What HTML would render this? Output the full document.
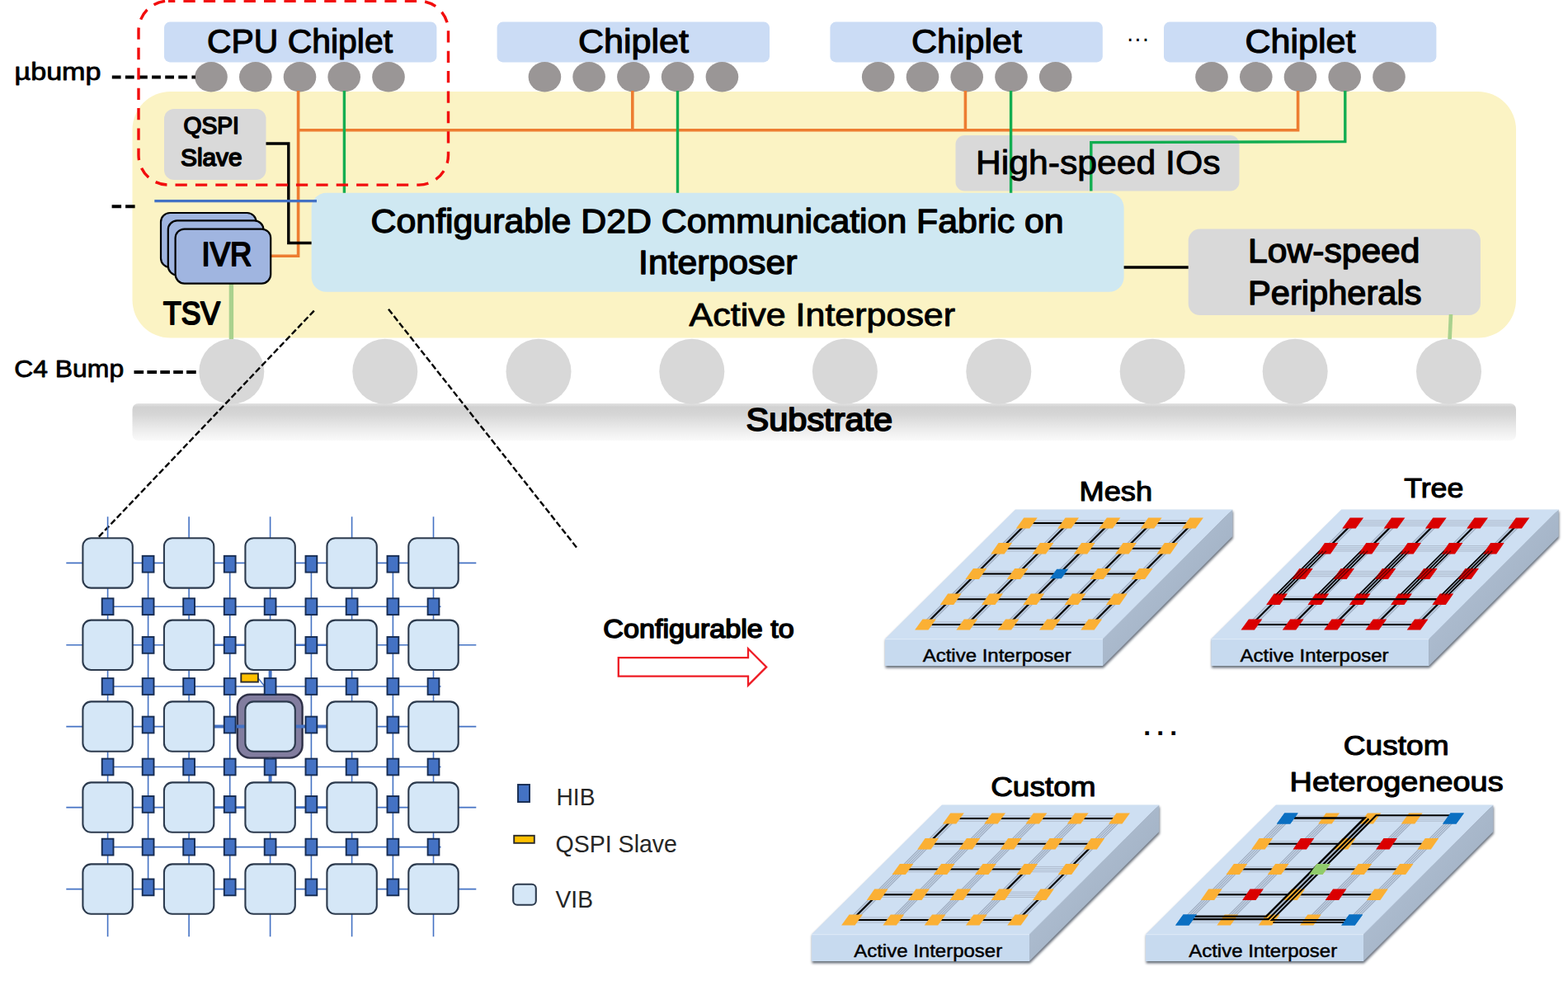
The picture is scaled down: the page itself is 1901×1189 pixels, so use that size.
<!DOCTYPE html>
<html lang="en">
<head>
<meta charset="utf-8">
<title>Configurable D2D Communication Fabric on Active Interposer</title>
<style>
html,body{margin:0;padding:0;background:#fff;}
body{width:1901px;height:1189px;overflow:hidden;}
svg{display:block;font-family:'Liberation Sans', sans-serif;}
</style>
</head>
<body>
<svg width="1901" height="1189" viewBox="0 0 1901 1189">
<defs>
<linearGradient id="gsub" x1="0" y1="0" x2="0" y2="1">
<stop offset="0" stop-color="#E2E2E2"/>
<stop offset="0.1" stop-color="#D1D1D1"/>
<stop offset="0.3" stop-color="#D6D6D6"/>
<stop offset="0.7" stop-color="#ECECEC"/>
<stop offset="1" stop-color="#FAFAFA"/>
</linearGradient>
<linearGradient id="gside" x1="0" y1="0" x2="1" y2="1">
<stop offset="0" stop-color="#B9C8DB"/>
<stop offset="1" stop-color="#98A8BB"/>
</linearGradient>
<filter id="blur2" x="-10%" y="-10%" width="120%" height="120%"><feGaussianBlur stdDeviation="1.7"/></filter>
</defs>
<rect width="1901" height="1189" fill="#fff"/>
<g id="top">
<rect x="160.5" y="111" width="1677.5" height="298.6" rx="46" ry="46" fill="#FBF3C4"/>
<rect x="160.5" y="489" width="1677.5" height="45" rx="7" ry="7" fill="url(#gsub)"/>
<circle cx="280.8" cy="450.3" r="39.5" fill="#D8D8D8"/>
<circle cx="466.8" cy="450.3" r="39.5" fill="#D8D8D8"/>
<circle cx="653" cy="450.3" r="39.5" fill="#D8D8D8"/>
<circle cx="838.8" cy="450.3" r="39.5" fill="#D8D8D8"/>
<circle cx="1024.4" cy="450.3" r="39.5" fill="#D8D8D8"/>
<circle cx="1210.8" cy="450.3" r="39.5" fill="#D8D8D8"/>
<circle cx="1397.2" cy="450.3" r="39.5" fill="#D8D8D8"/>
<circle cx="1570.2" cy="450.3" r="39.5" fill="#D8D8D8"/>
<circle cx="1756.5" cy="450.3" r="39.5" fill="#D8D8D8"/>
<rect x="199" y="26.6" width="330.4" height="48.8" rx="7" ry="7" fill="#CBDCF5"/>
<rect x="602.6" y="26.6" width="330.4" height="48.8" rx="7" ry="7" fill="#CBDCF5"/>
<rect x="1006.4" y="26.6" width="330.4" height="48.8" rx="7" ry="7" fill="#CBDCF5"/>
<rect x="1411" y="26.6" width="330.4" height="48.8" rx="7" ry="7" fill="#CBDCF5"/>
<ellipse cx="256.0" cy="93.3" rx="19.8" ry="18.2" fill="#9A9696"/>
<ellipse cx="309.8" cy="93.3" rx="19.8" ry="18.2" fill="#9A9696"/>
<ellipse cx="363.5" cy="93.3" rx="19.8" ry="18.2" fill="#9A9696"/>
<ellipse cx="417.2" cy="93.3" rx="19.8" ry="18.2" fill="#9A9696"/>
<ellipse cx="471.0" cy="93.3" rx="19.8" ry="18.2" fill="#9A9696"/>
<ellipse cx="660.4" cy="93.3" rx="19.8" ry="18.2" fill="#9A9696"/>
<ellipse cx="714.1" cy="93.3" rx="19.8" ry="18.2" fill="#9A9696"/>
<ellipse cx="767.9" cy="93.3" rx="19.8" ry="18.2" fill="#9A9696"/>
<ellipse cx="821.6" cy="93.3" rx="19.8" ry="18.2" fill="#9A9696"/>
<ellipse cx="875.4" cy="93.3" rx="19.8" ry="18.2" fill="#9A9696"/>
<ellipse cx="1064.7" cy="93.3" rx="19.8" ry="18.2" fill="#9A9696"/>
<ellipse cx="1118.5" cy="93.3" rx="19.8" ry="18.2" fill="#9A9696"/>
<ellipse cx="1172.2" cy="93.3" rx="19.8" ry="18.2" fill="#9A9696"/>
<ellipse cx="1226.0" cy="93.3" rx="19.8" ry="18.2" fill="#9A9696"/>
<ellipse cx="1279.7" cy="93.3" rx="19.8" ry="18.2" fill="#9A9696"/>
<ellipse cx="1469.0" cy="93.3" rx="19.8" ry="18.2" fill="#9A9696"/>
<ellipse cx="1522.8" cy="93.3" rx="19.8" ry="18.2" fill="#9A9696"/>
<ellipse cx="1576.5" cy="93.3" rx="19.8" ry="18.2" fill="#9A9696"/>
<ellipse cx="1630.2" cy="93.3" rx="19.8" ry="18.2" fill="#9A9696"/>
<ellipse cx="1684.0" cy="93.3" rx="19.8" ry="18.2" fill="#9A9696"/>
<text x="251" y="63.5" font-size="40" font-weight="normal" text-anchor="start" fill="#000" textLength="225" lengthAdjust="spacingAndGlyphs" stroke="#000" stroke-width="1.15" stroke-linejoin="round">CPU Chiplet</text>
<text x="701" y="63.5" font-size="40" font-weight="normal" text-anchor="start" fill="#000" textLength="134" lengthAdjust="spacingAndGlyphs" stroke="#000" stroke-width="1.15" stroke-linejoin="round">Chiplet</text>
<text x="1105" y="63.5" font-size="40" font-weight="normal" text-anchor="start" fill="#000" textLength="134" lengthAdjust="spacingAndGlyphs" stroke="#000" stroke-width="1.15" stroke-linejoin="round">Chiplet</text>
<text x="1509.5" y="63.5" font-size="40" font-weight="normal" text-anchor="start" fill="#000" textLength="134" lengthAdjust="spacingAndGlyphs" stroke="#000" stroke-width="1.15" stroke-linejoin="round">Chiplet</text>
<text x="1365.5" y="56" font-size="30" font-weight="normal" text-anchor="start" fill="#000" textLength="28" lengthAdjust="spacingAndGlyphs">···</text>
<rect x="199" y="132" width="123.5" height="86" rx="12" ry="12" fill="#D9D9D9"/>
<rect x="1158.5" y="164" width="344" height="67.5" rx="11" ry="11" fill="#D9D9D9"/>
<rect x="1440.7" y="277.6" width="354.2" height="104.5" rx="14" ry="14" fill="#D9D9D9"/>
<rect x="377.6" y="233.8" width="985" height="120" rx="18" ry="18" fill="#CFE8F2"/>
<g fill="none" stroke="#ED7D31" stroke-width="3.6" stroke-linejoin="miter">
<path d="M361.6 110 V310.2 H328"/>
<path d="M361.6 157.8 H1573.6 V110"/>
<path d="M766.8 110 V157.8"/>
<path d="M1170.4 110 V157.8"/>
</g>
<g fill="none" stroke="#12AD51" stroke-width="3.4">
<path d="M417.4 110 V233.8"/>
<path d="M821.5 110 V233.8"/>
<path d="M1225.6 110 V233.8"/>
<path d="M1630.8 110 V171.6 L1322.8 172.6 V231.5"/>
</g>
<g fill="none" stroke="#000" stroke-width="3.4">
<path d="M322.5 174 H349.8 V294.5 H377.6"/>
<path d="M1362.6 324 H1440.7"/>
</g>
<path d="M187.3 243.6 H384" stroke="#4472C4" stroke-width="3.4" fill="none"/>
<path d="M280.4 343 V411" stroke="#A9D18E" stroke-width="5.4" fill="none"/>
<path d="M1759 381 L1757.6 411" stroke="#A9D18E" stroke-width="4.6" fill="none"/>
<rect x="195" y="258" width="115.6" height="66" rx="11" ry="11" fill="#A0B5E0" stroke="#000" stroke-width="2.2"/>
<rect x="203.8" y="267.4" width="115.6" height="66" rx="11" ry="11" fill="#A0B5E0" stroke="#000" stroke-width="2.2"/>
<rect x="212.6" y="277.6" width="115.6" height="66" rx="11" ry="11" fill="#A0B5E0" stroke="#000" stroke-width="2.2"/>
<text x="244.6" y="322.4" font-size="40" font-weight="normal" text-anchor="start" fill="#000" textLength="60.5" lengthAdjust="spacingAndGlyphs" stroke="#000" stroke-width="2.1" stroke-linejoin="round">IVR</text>
<text x="256.2" y="161.9" font-size="29" font-weight="normal" text-anchor="middle" fill="#000" textLength="67.5" lengthAdjust="spacingAndGlyphs" stroke="#000" stroke-width="1.6" stroke-linejoin="round">QSPI</text>
<text x="256.3" y="200.6" font-size="29" font-weight="normal" text-anchor="middle" fill="#000" textLength="74.5" lengthAdjust="spacingAndGlyphs" stroke="#000" stroke-width="1.6" stroke-linejoin="round">Slave</text>
<text x="1183" y="211" font-size="40" font-weight="normal" text-anchor="start" fill="#000" textLength="296.5" lengthAdjust="spacingAndGlyphs" stroke="#000" stroke-width="0.9" stroke-linejoin="round">High-speed IOs</text>
<text x="449.6" y="282" font-size="40" font-weight="normal" text-anchor="start" fill="#000" textLength="840" lengthAdjust="spacingAndGlyphs" stroke="#000" stroke-width="1.35" stroke-linejoin="round">Configurable D2D Communication Fabric on</text>
<text x="774" y="332.4" font-size="40" font-weight="normal" text-anchor="start" fill="#000" textLength="192.5" lengthAdjust="spacingAndGlyphs" stroke="#000" stroke-width="1.35" stroke-linejoin="round">Interposer</text>
<text x="1513" y="318" font-size="40" font-weight="normal" text-anchor="start" fill="#000" textLength="208.5" lengthAdjust="spacingAndGlyphs" stroke="#000" stroke-width="1.35" stroke-linejoin="round">Low-speed</text>
<text x="1513" y="368.5" font-size="40" font-weight="normal" text-anchor="start" fill="#000" textLength="210.5" lengthAdjust="spacingAndGlyphs" stroke="#000" stroke-width="1.35" stroke-linejoin="round">Peripherals</text>
<text x="198" y="393" font-size="39" font-weight="normal" text-anchor="start" fill="#000" textLength="69" lengthAdjust="spacingAndGlyphs" stroke="#000" stroke-width="2.1" stroke-linejoin="round">TSV</text>
<text x="835.6" y="394.7" font-size="38" font-weight="normal" text-anchor="start" fill="#000" textLength="322.5" lengthAdjust="spacingAndGlyphs" stroke="#000" stroke-width="0.9" stroke-linejoin="round">Active Interposer</text>
<text x="904.6" y="521.5" font-size="38" font-weight="normal" text-anchor="start" fill="#000" textLength="177.5" lengthAdjust="spacingAndGlyphs" stroke="#000" stroke-width="1.8" stroke-linejoin="round">Substrate</text>
<text x="17.5" y="97.3" font-size="30" font-weight="normal" text-anchor="start" fill="#000" textLength="105" lengthAdjust="spacingAndGlyphs" stroke="#000" stroke-width="0.8" stroke-linejoin="round">µbump</text>
<text x="17.2" y="456.6" font-size="30" font-weight="normal" text-anchor="start" fill="#000" textLength="133" lengthAdjust="spacingAndGlyphs" stroke="#000" stroke-width="0.8" stroke-linejoin="round">C4 Bump</text>
<g fill="none" stroke="#000" stroke-width="4">
<path d="M135.8 93.4 H237" stroke-dasharray="10.8 5.3"/>
<path d="M135.6 250.3 H164" stroke-dasharray="11.5 5"/>
<path d="M162.5 451 H238" stroke-dasharray="11.6 4.3"/>
</g>
<rect x="168" y="1.2" width="375.5" height="222.9" rx="36" ry="36" fill="none" stroke="#F20D0D" stroke-width="3.4" stroke-dasharray="14.3 10.1" stroke-dashoffset="6"/>
<g fill="none" stroke="#000" stroke-width="2.4" stroke-dasharray="7.4 3.2">
<path d="M380.8 376.6 L118.5 652"/>
<path d="M471 374.8 L701 666"/>
</g>
</g>
<g id="grid">
<g fill="none" stroke="#4472C4" stroke-width="1.6">
<path d="M80.3 682.4 H577.3"/>
<path d="M80.3 781.8 H577.3"/>
<path d="M80.3 880.6 H577.3"/>
<path d="M80.3 978.6 H577.3"/>
<path d="M80.3 1077.6 H577.3"/>
<path d="M130.6 626.3 V1135.2"/>
<path d="M229.1 626.3 V1135.2"/>
<path d="M327.6 626.3 V1135.2"/>
<path d="M426.6 626.3 V1135.2"/>
<path d="M525.5 626.3 V1135.2"/>
<path d="M130.6 735.2 H534.5"/>
<path d="M130.6 832 H534.5"/>
<path d="M130.6 929.5 H534.5"/>
<path d="M130.6 1026.6 H534.5"/>
<path d="M179.6 682.4 V1077.6"/>
<path d="M278.7 682.4 V1077.6"/>
<path d="M377.4 682.4 V1077.6"/>
<path d="M476.4 682.4 V1077.6"/>
</g>
<g fill="none" stroke="#4472C4" stroke-width="2.6">
<path d="M259.1 781.8 H396.6"/>
<path d="M259.1 978.6 H396.6"/>
</g>
<path d="M313 822 L321 832" stroke="#4472C4" stroke-width="1.4" fill="none"/>
<rect x="287.8" y="841.8" width="78.8" height="76.8" rx="15" ry="15" fill="#827D9F" stroke="#2E3047" stroke-width="2.4"/>
<g fill="none" stroke="#4472C4" stroke-width="4">
<path d="M259.1 880.6 H396.6"/>
<path d="M327.6 811.8 V841.6"/>
<path d="M327.6 918.6 V948.6"/>
</g>
<rect x="100.4" y="652.2" width="60.4" height="60.4" rx="10" ry="10" fill="#D5E7F7" stroke="#2C3A4D" stroke-width="2.1"/>
<rect x="198.9" y="652.2" width="60.4" height="60.4" rx="10" ry="10" fill="#D5E7F7" stroke="#2C3A4D" stroke-width="2.1"/>
<rect x="297.4" y="652.2" width="60.4" height="60.4" rx="10" ry="10" fill="#D5E7F7" stroke="#2C3A4D" stroke-width="2.1"/>
<rect x="396.4" y="652.2" width="60.4" height="60.4" rx="10" ry="10" fill="#D5E7F7" stroke="#2C3A4D" stroke-width="2.1"/>
<rect x="495.3" y="652.2" width="60.4" height="60.4" rx="10" ry="10" fill="#D5E7F7" stroke="#2C3A4D" stroke-width="2.1"/>
<rect x="100.4" y="751.6" width="60.4" height="60.4" rx="10" ry="10" fill="#D5E7F7" stroke="#2C3A4D" stroke-width="2.1"/>
<rect x="198.9" y="751.6" width="60.4" height="60.4" rx="10" ry="10" fill="#D5E7F7" stroke="#2C3A4D" stroke-width="2.1"/>
<rect x="297.4" y="751.6" width="60.4" height="60.4" rx="10" ry="10" fill="#D5E7F7" stroke="#2C3A4D" stroke-width="2.1"/>
<rect x="396.4" y="751.6" width="60.4" height="60.4" rx="10" ry="10" fill="#D5E7F7" stroke="#2C3A4D" stroke-width="2.1"/>
<rect x="495.3" y="751.6" width="60.4" height="60.4" rx="10" ry="10" fill="#D5E7F7" stroke="#2C3A4D" stroke-width="2.1"/>
<rect x="100.4" y="850.4" width="60.4" height="60.4" rx="10" ry="10" fill="#D5E7F7" stroke="#2C3A4D" stroke-width="2.1"/>
<rect x="198.9" y="850.4" width="60.4" height="60.4" rx="10" ry="10" fill="#D5E7F7" stroke="#2C3A4D" stroke-width="2.1"/>
<rect x="297.4" y="850.4" width="60.4" height="60.4" rx="10" ry="10" fill="#D5E7F7" stroke="#2C3A4D" stroke-width="2.1"/>
<rect x="396.4" y="850.4" width="60.4" height="60.4" rx="10" ry="10" fill="#D5E7F7" stroke="#2C3A4D" stroke-width="2.1"/>
<rect x="495.3" y="850.4" width="60.4" height="60.4" rx="10" ry="10" fill="#D5E7F7" stroke="#2C3A4D" stroke-width="2.1"/>
<rect x="100.4" y="948.4" width="60.4" height="60.4" rx="10" ry="10" fill="#D5E7F7" stroke="#2C3A4D" stroke-width="2.1"/>
<rect x="198.9" y="948.4" width="60.4" height="60.4" rx="10" ry="10" fill="#D5E7F7" stroke="#2C3A4D" stroke-width="2.1"/>
<rect x="297.4" y="948.4" width="60.4" height="60.4" rx="10" ry="10" fill="#D5E7F7" stroke="#2C3A4D" stroke-width="2.1"/>
<rect x="396.4" y="948.4" width="60.4" height="60.4" rx="10" ry="10" fill="#D5E7F7" stroke="#2C3A4D" stroke-width="2.1"/>
<rect x="495.3" y="948.4" width="60.4" height="60.4" rx="10" ry="10" fill="#D5E7F7" stroke="#2C3A4D" stroke-width="2.1"/>
<rect x="100.4" y="1047.4" width="60.4" height="60.4" rx="10" ry="10" fill="#D5E7F7" stroke="#2C3A4D" stroke-width="2.1"/>
<rect x="198.9" y="1047.4" width="60.4" height="60.4" rx="10" ry="10" fill="#D5E7F7" stroke="#2C3A4D" stroke-width="2.1"/>
<rect x="297.4" y="1047.4" width="60.4" height="60.4" rx="10" ry="10" fill="#D5E7F7" stroke="#2C3A4D" stroke-width="2.1"/>
<rect x="396.4" y="1047.4" width="60.4" height="60.4" rx="10" ry="10" fill="#D5E7F7" stroke="#2C3A4D" stroke-width="2.1"/>
<rect x="495.3" y="1047.4" width="60.4" height="60.4" rx="10" ry="10" fill="#D5E7F7" stroke="#2C3A4D" stroke-width="2.1"/>
<rect x="123.7" y="725.3" width="13.8" height="19.8" fill="#4472C4" stroke="#172C51" stroke-width="1.9"/>
<rect x="172.7" y="725.3" width="13.8" height="19.8" fill="#4472C4" stroke="#172C51" stroke-width="1.9"/>
<rect x="222.2" y="725.3" width="13.8" height="19.8" fill="#4472C4" stroke="#172C51" stroke-width="1.9"/>
<rect x="271.8" y="725.3" width="13.8" height="19.8" fill="#4472C4" stroke="#172C51" stroke-width="1.9"/>
<rect x="320.7" y="725.3" width="13.8" height="19.8" fill="#4472C4" stroke="#172C51" stroke-width="1.9"/>
<rect x="370.5" y="725.3" width="13.8" height="19.8" fill="#4472C4" stroke="#172C51" stroke-width="1.9"/>
<rect x="419.7" y="725.3" width="13.8" height="19.8" fill="#4472C4" stroke="#172C51" stroke-width="1.9"/>
<rect x="469.5" y="725.3" width="13.8" height="19.8" fill="#4472C4" stroke="#172C51" stroke-width="1.9"/>
<rect x="518.6" y="725.3" width="13.8" height="19.8" fill="#4472C4" stroke="#172C51" stroke-width="1.9"/>
<rect x="123.7" y="822.1" width="13.8" height="19.8" fill="#4472C4" stroke="#172C51" stroke-width="1.9"/>
<rect x="172.7" y="822.1" width="13.8" height="19.8" fill="#4472C4" stroke="#172C51" stroke-width="1.9"/>
<rect x="222.2" y="822.1" width="13.8" height="19.8" fill="#4472C4" stroke="#172C51" stroke-width="1.9"/>
<rect x="271.8" y="822.1" width="13.8" height="19.8" fill="#4472C4" stroke="#172C51" stroke-width="1.9"/>
<rect x="320.7" y="822.1" width="13.8" height="19.8" fill="#4472C4" stroke="#172C51" stroke-width="1.9"/>
<rect x="370.5" y="822.1" width="13.8" height="19.8" fill="#4472C4" stroke="#172C51" stroke-width="1.9"/>
<rect x="419.7" y="822.1" width="13.8" height="19.8" fill="#4472C4" stroke="#172C51" stroke-width="1.9"/>
<rect x="469.5" y="822.1" width="13.8" height="19.8" fill="#4472C4" stroke="#172C51" stroke-width="1.9"/>
<rect x="518.6" y="822.1" width="13.8" height="19.8" fill="#4472C4" stroke="#172C51" stroke-width="1.9"/>
<rect x="123.7" y="919.6" width="13.8" height="19.8" fill="#4472C4" stroke="#172C51" stroke-width="1.9"/>
<rect x="172.7" y="919.6" width="13.8" height="19.8" fill="#4472C4" stroke="#172C51" stroke-width="1.9"/>
<rect x="222.2" y="919.6" width="13.8" height="19.8" fill="#4472C4" stroke="#172C51" stroke-width="1.9"/>
<rect x="271.8" y="919.6" width="13.8" height="19.8" fill="#4472C4" stroke="#172C51" stroke-width="1.9"/>
<rect x="320.7" y="919.6" width="13.8" height="19.8" fill="#4472C4" stroke="#172C51" stroke-width="1.9"/>
<rect x="370.5" y="919.6" width="13.8" height="19.8" fill="#4472C4" stroke="#172C51" stroke-width="1.9"/>
<rect x="419.7" y="919.6" width="13.8" height="19.8" fill="#4472C4" stroke="#172C51" stroke-width="1.9"/>
<rect x="469.5" y="919.6" width="13.8" height="19.8" fill="#4472C4" stroke="#172C51" stroke-width="1.9"/>
<rect x="518.6" y="919.6" width="13.8" height="19.8" fill="#4472C4" stroke="#172C51" stroke-width="1.9"/>
<rect x="123.7" y="1016.7" width="13.8" height="19.8" fill="#4472C4" stroke="#172C51" stroke-width="1.9"/>
<rect x="172.7" y="1016.7" width="13.8" height="19.8" fill="#4472C4" stroke="#172C51" stroke-width="1.9"/>
<rect x="222.2" y="1016.7" width="13.8" height="19.8" fill="#4472C4" stroke="#172C51" stroke-width="1.9"/>
<rect x="271.8" y="1016.7" width="13.8" height="19.8" fill="#4472C4" stroke="#172C51" stroke-width="1.9"/>
<rect x="320.7" y="1016.7" width="13.8" height="19.8" fill="#4472C4" stroke="#172C51" stroke-width="1.9"/>
<rect x="370.5" y="1016.7" width="13.8" height="19.8" fill="#4472C4" stroke="#172C51" stroke-width="1.9"/>
<rect x="419.7" y="1016.7" width="13.8" height="19.8" fill="#4472C4" stroke="#172C51" stroke-width="1.9"/>
<rect x="469.5" y="1016.7" width="13.8" height="19.8" fill="#4472C4" stroke="#172C51" stroke-width="1.9"/>
<rect x="518.6" y="1016.7" width="13.8" height="19.8" fill="#4472C4" stroke="#172C51" stroke-width="1.9"/>
<rect x="172.7" y="673.8" width="13.8" height="19.8" fill="#4472C4" stroke="#172C51" stroke-width="1.9"/>
<rect x="271.8" y="673.8" width="13.8" height="19.8" fill="#4472C4" stroke="#172C51" stroke-width="1.9"/>
<rect x="370.5" y="673.8" width="13.8" height="19.8" fill="#4472C4" stroke="#172C51" stroke-width="1.9"/>
<rect x="469.5" y="673.8" width="13.8" height="19.8" fill="#4472C4" stroke="#172C51" stroke-width="1.9"/>
<rect x="172.7" y="772.0" width="13.8" height="19.8" fill="#4472C4" stroke="#172C51" stroke-width="1.9"/>
<rect x="271.8" y="772.0" width="13.8" height="19.8" fill="#4472C4" stroke="#172C51" stroke-width="1.9"/>
<rect x="370.5" y="772.0" width="13.8" height="19.8" fill="#4472C4" stroke="#172C51" stroke-width="1.9"/>
<rect x="469.5" y="772.0" width="13.8" height="19.8" fill="#4472C4" stroke="#172C51" stroke-width="1.9"/>
<rect x="172.7" y="868.6" width="13.8" height="19.8" fill="#4472C4" stroke="#172C51" stroke-width="1.9"/>
<rect x="271.8" y="868.6" width="13.8" height="19.8" fill="#4472C4" stroke="#172C51" stroke-width="1.9"/>
<rect x="370.5" y="868.6" width="13.8" height="19.8" fill="#4472C4" stroke="#172C51" stroke-width="1.9"/>
<rect x="469.5" y="868.6" width="13.8" height="19.8" fill="#4472C4" stroke="#172C51" stroke-width="1.9"/>
<rect x="172.7" y="965.0" width="13.8" height="19.8" fill="#4472C4" stroke="#172C51" stroke-width="1.9"/>
<rect x="271.8" y="965.0" width="13.8" height="19.8" fill="#4472C4" stroke="#172C51" stroke-width="1.9"/>
<rect x="370.5" y="965.0" width="13.8" height="19.8" fill="#4472C4" stroke="#172C51" stroke-width="1.9"/>
<rect x="469.5" y="965.0" width="13.8" height="19.8" fill="#4472C4" stroke="#172C51" stroke-width="1.9"/>
<rect x="172.7" y="1065.5" width="13.8" height="19.8" fill="#4472C4" stroke="#172C51" stroke-width="1.9"/>
<rect x="271.8" y="1065.5" width="13.8" height="19.8" fill="#4472C4" stroke="#172C51" stroke-width="1.9"/>
<rect x="370.5" y="1065.5" width="13.8" height="19.8" fill="#4472C4" stroke="#172C51" stroke-width="1.9"/>
<rect x="469.5" y="1065.5" width="13.8" height="19.8" fill="#4472C4" stroke="#172C51" stroke-width="1.9"/>
<rect x="292.3" y="816.4" width="20.6" height="10.2" fill="#FFC000" stroke="#2a2a2a" stroke-width="1.9"/>
<rect x="628" y="951" width="14" height="21" fill="#4472C4" stroke="#172C51" stroke-width="1.9"/>
<rect x="623.2" y="1012.8" width="24.6" height="9" fill="#FFC000" stroke="#2a2a2a" stroke-width="1.9"/>
<rect x="622.2" y="1071.8" width="27.6" height="25" rx="5" ry="5" fill="#D5E7F7" stroke="#2C3A4D" stroke-width="2.1"/>
<text x="674.5" y="975.8" font-size="30" font-weight="normal" text-anchor="start" fill="#262626" textLength="47" lengthAdjust="spacingAndGlyphs">HIB</text>
<text x="673.5" y="1033.2" font-size="30" font-weight="normal" text-anchor="start" fill="#262626" textLength="147.5" lengthAdjust="spacingAndGlyphs">QSPI Slave</text>
<text x="673.5" y="1099.8" font-size="30" font-weight="normal" text-anchor="start" fill="#262626" textLength="45.5" lengthAdjust="spacingAndGlyphs">VIB</text>
</g>
<g id="arrow">
<text x="731.3" y="772.5" font-size="30.5" font-weight="normal" text-anchor="start" fill="#000" textLength="231.5" lengthAdjust="spacingAndGlyphs" stroke="#000" stroke-width="1.5" stroke-linejoin="round">Configurable to</text>
<path d="M749.8 797.2 H907 V786.2 L929.2 808.4 L907 830.6 V819.6 H749.8 Z" fill="#fff" stroke="#EE1C25" stroke-width="2.3" stroke-linejoin="miter"/>
</g>
<g id="slabs">
<g transform="translate(0 0)">
<path d="M1073.6 776 L1231.5 620 H1494.8 V652.6 L1337.6 809.6 H1073.6 Z" fill="#4C5462" opacity="0.85" filter="url(#blur2)"/>
<path d="M1337 774 L1494.3 617.5 V650 L1337 807 Z" fill="url(#gside)"/>
<path d="M1231 617.5 H1494.3 L1337 774.5 H1073 Z" fill="#CEDFF2"/>
<rect x="1073" y="774" width="264" height="33" fill="#C7DAEF"/>
<path d="M1073 774.6 H1337" stroke="#DCE8F6" stroke-width="1.4" fill="none"/>
<g fill="none" stroke="#A0AEC2" stroke-width="1.25">
<path d="M1244.8 630.9 H1446.0" stroke="#AEBBCD" stroke-width="1"/>
<path d="M1244.8 633.0 H1446.0" stroke="#AEBBCD" stroke-width="1"/>
<path d="M1244.8 635.1 H1446.0" stroke="#AEBBCD" stroke-width="1"/>
<path d="M1244.8 637.2 H1446.0" stroke="#AEBBCD" stroke-width="1"/>
<path d="M1214.1 661.6 H1415.3" stroke="#AEBBCD" stroke-width="1"/>
<path d="M1214.1 663.8 H1415.3" stroke="#AEBBCD" stroke-width="1"/>
<path d="M1214.1 665.9 H1415.3" stroke="#AEBBCD" stroke-width="1"/>
<path d="M1214.1 668.0 H1415.3" stroke="#AEBBCD" stroke-width="1"/>
<path d="M1183.4 692.4 H1384.6" stroke="#AEBBCD" stroke-width="1"/>
<path d="M1183.4 694.5 H1384.6" stroke="#AEBBCD" stroke-width="1"/>
<path d="M1183.4 696.6 H1384.6" stroke="#AEBBCD" stroke-width="1"/>
<path d="M1183.4 698.7 H1384.6" stroke="#AEBBCD" stroke-width="1"/>
<path d="M1152.7 723.1 H1353.9" stroke="#AEBBCD" stroke-width="1"/>
<path d="M1152.7 725.2 H1353.9" stroke="#AEBBCD" stroke-width="1"/>
<path d="M1152.7 727.4 H1353.9" stroke="#AEBBCD" stroke-width="1"/>
<path d="M1152.7 729.5 H1353.9" stroke="#AEBBCD" stroke-width="1"/>
<path d="M1122.0 753.9 H1323.2" stroke="#AEBBCD" stroke-width="1"/>
<path d="M1122.0 756.0 H1323.2" stroke="#AEBBCD" stroke-width="1"/>
<path d="M1122.0 758.1 H1323.2" stroke="#AEBBCD" stroke-width="1"/>
<path d="M1122.0 760.2 H1323.2" stroke="#AEBBCD" stroke-width="1"/>
<path d="M1240.4 634.0 L1117.6 757.0"/>
<path d="M1243.3 634.0 L1120.5 757.0"/>
<path d="M1246.3 634.0 L1123.5 757.0"/>
<path d="M1249.2 634.0 L1126.4 757.0"/>
<path d="M1290.7 634.0 L1167.9 757.0"/>
<path d="M1293.6 634.0 L1170.8 757.0"/>
<path d="M1296.6 634.0 L1173.8 757.0"/>
<path d="M1299.5 634.0 L1176.7 757.0"/>
<path d="M1341.0 634.0 L1218.2 757.0"/>
<path d="M1343.9 634.0 L1221.1 757.0"/>
<path d="M1346.9 634.0 L1224.1 757.0"/>
<path d="M1349.8 634.0 L1227.0 757.0"/>
<path d="M1391.3 634.0 L1268.5 757.0"/>
<path d="M1394.2 634.0 L1271.4 757.0"/>
<path d="M1397.2 634.0 L1274.4 757.0"/>
<path d="M1400.1 634.0 L1277.3 757.0"/>
<path d="M1441.6 634.0 L1318.8 757.0"/>
<path d="M1444.5 634.0 L1321.7 757.0"/>
<path d="M1447.5 634.0 L1324.7 757.0"/>
<path d="M1450.4 634.0 L1327.6 757.0"/>
</g>
<g fill="none" stroke="#000" stroke-width="2">
<path d="M1244.8 634.0 H1446.0"/>
<path d="M1214.1 664.8 H1415.3"/>
<path d="M1183.4 695.5 H1384.6"/>
<path d="M1152.7 726.2 H1353.9"/>
<path d="M1122.0 757.0 H1323.2"/>
<path d="M1244.8 634.0 L1122.0 757.0"/>
<path d="M1295.1 634.0 L1172.3 757.0"/>
<path d="M1345.4 634.0 L1222.6 757.0"/>
<path d="M1395.7 634.0 L1272.9 757.0"/>
<path d="M1446.0 634.0 L1323.2 757.0"/>
</g>
<path d="M1241.3 627.4 L1257.7 627.4 L1248.3 640.6 L1231.9 640.6 Z" fill="#FBB034"/>
<path d="M1291.6 627.4 L1308.0 627.4 L1298.6 640.6 L1282.2 640.6 Z" fill="#FBB034"/>
<path d="M1341.9 627.4 L1358.3 627.4 L1348.9 640.6 L1332.5 640.6 Z" fill="#FBB034"/>
<path d="M1392.2 627.4 L1408.6 627.4 L1399.2 640.6 L1382.8 640.6 Z" fill="#FBB034"/>
<path d="M1442.5 627.4 L1458.9 627.4 L1449.5 640.6 L1433.1 640.6 Z" fill="#FBB034"/>
<path d="M1210.6 658.1 L1227.0 658.1 L1217.6 671.4 L1201.2 671.4 Z" fill="#FBB034"/>
<path d="M1260.9 658.1 L1277.3 658.1 L1267.9 671.4 L1251.5 671.4 Z" fill="#FBB034"/>
<path d="M1311.2 658.1 L1327.6 658.1 L1318.2 671.4 L1301.8 671.4 Z" fill="#FBB034"/>
<path d="M1361.5 658.1 L1377.9 658.1 L1368.5 671.4 L1352.1 671.4 Z" fill="#FBB034"/>
<path d="M1411.8 658.1 L1428.2 658.1 L1418.8 671.4 L1402.4 671.4 Z" fill="#FBB034"/>
<path d="M1179.9 688.9 L1196.3 688.9 L1186.9 702.1 L1170.5 702.1 Z" fill="#FBB034"/>
<path d="M1230.2 688.9 L1246.6 688.9 L1237.2 702.1 L1220.8 702.1 Z" fill="#FBB034"/>
<path d="M1281.2 689.7 L1295.2 689.7 L1286.8 701.3 L1272.8 701.3 Z" fill="#0A6FC2"/>
<path d="M1330.8 688.9 L1347.2 688.9 L1337.8 702.1 L1321.4 702.1 Z" fill="#FBB034"/>
<path d="M1381.1 688.9 L1397.5 688.9 L1388.1 702.1 L1371.7 702.1 Z" fill="#FBB034"/>
<path d="M1149.2 719.6 L1165.6 719.6 L1156.2 732.9 L1139.8 732.9 Z" fill="#FBB034"/>
<path d="M1199.5 719.6 L1215.9 719.6 L1206.5 732.9 L1190.1 732.9 Z" fill="#FBB034"/>
<path d="M1249.8 719.6 L1266.2 719.6 L1256.8 732.9 L1240.4 732.9 Z" fill="#FBB034"/>
<path d="M1300.1 719.6 L1316.5 719.6 L1307.1 732.9 L1290.7 732.9 Z" fill="#FBB034"/>
<path d="M1350.4 719.6 L1366.8 719.6 L1357.4 732.9 L1341.0 732.9 Z" fill="#FBB034"/>
<path d="M1118.5 750.4 L1134.9 750.4 L1125.5 763.6 L1109.1 763.6 Z" fill="#FBB034"/>
<path d="M1168.8 750.4 L1185.2 750.4 L1175.8 763.6 L1159.4 763.6 Z" fill="#FBB034"/>
<path d="M1219.1 750.4 L1235.5 750.4 L1226.1 763.6 L1209.7 763.6 Z" fill="#FBB034"/>
<path d="M1269.4 750.4 L1285.8 750.4 L1276.4 763.6 L1260.0 763.6 Z" fill="#FBB034"/>
<path d="M1319.7 750.4 L1336.1 750.4 L1326.7 763.6 L1310.3 763.6 Z" fill="#FBB034"/>
<text x="1118.7" y="801.5" font-size="21.5" font-weight="normal" text-anchor="start" fill="#000" textLength="180" lengthAdjust="spacingAndGlyphs" stroke="#000" stroke-width="0.45" stroke-linejoin="round">Active Interposer</text>
</g>
<g transform="translate(395.4 0)">
<path d="M1073.6 776 L1231.5 620 H1494.8 V652.6 L1337.6 809.6 H1073.6 Z" fill="#4C5462" opacity="0.85" filter="url(#blur2)"/>
<path d="M1337 774 L1494.3 617.5 V650 L1337 807 Z" fill="url(#gside)"/>
<path d="M1231 617.5 H1494.3 L1337 774.5 H1073 Z" fill="#CEDFF2"/>
<rect x="1073" y="774" width="264" height="33" fill="#C7DAEF"/>
<path d="M1073 774.6 H1337" stroke="#DCE8F6" stroke-width="1.4" fill="none"/>
<g fill="none" stroke="#A0AEC2" stroke-width="1.25">
<path d="M1244.8 630.9 H1446.0" stroke="#AEBBCD" stroke-width="1"/>
<path d="M1244.8 633.0 H1446.0" stroke="#AEBBCD" stroke-width="1"/>
<path d="M1244.8 635.1 H1446.0" stroke="#AEBBCD" stroke-width="1"/>
<path d="M1244.8 637.2 H1446.0" stroke="#AEBBCD" stroke-width="1"/>
<path d="M1214.1 661.6 H1415.3" stroke="#AEBBCD" stroke-width="1"/>
<path d="M1214.1 663.8 H1415.3" stroke="#AEBBCD" stroke-width="1"/>
<path d="M1214.1 665.9 H1415.3" stroke="#AEBBCD" stroke-width="1"/>
<path d="M1214.1 668.0 H1415.3" stroke="#AEBBCD" stroke-width="1"/>
<path d="M1183.4 692.4 H1384.6" stroke="#AEBBCD" stroke-width="1"/>
<path d="M1183.4 694.5 H1384.6" stroke="#AEBBCD" stroke-width="1"/>
<path d="M1183.4 696.6 H1384.6" stroke="#AEBBCD" stroke-width="1"/>
<path d="M1183.4 698.7 H1384.6" stroke="#AEBBCD" stroke-width="1"/>
<path d="M1152.7 723.1 H1353.9" stroke="#AEBBCD" stroke-width="1"/>
<path d="M1152.7 725.2 H1353.9" stroke="#AEBBCD" stroke-width="1"/>
<path d="M1152.7 727.4 H1353.9" stroke="#AEBBCD" stroke-width="1"/>
<path d="M1152.7 729.5 H1353.9" stroke="#AEBBCD" stroke-width="1"/>
<path d="M1122.0 753.9 H1323.2" stroke="#AEBBCD" stroke-width="1"/>
<path d="M1122.0 756.0 H1323.2" stroke="#AEBBCD" stroke-width="1"/>
<path d="M1122.0 758.1 H1323.2" stroke="#AEBBCD" stroke-width="1"/>
<path d="M1122.0 760.2 H1323.2" stroke="#AEBBCD" stroke-width="1"/>
<path d="M1240.4 634.0 L1117.6 757.0"/>
<path d="M1243.3 634.0 L1120.5 757.0"/>
<path d="M1246.3 634.0 L1123.5 757.0"/>
<path d="M1249.2 634.0 L1126.4 757.0"/>
<path d="M1290.7 634.0 L1167.9 757.0"/>
<path d="M1293.6 634.0 L1170.8 757.0"/>
<path d="M1296.6 634.0 L1173.8 757.0"/>
<path d="M1299.5 634.0 L1176.7 757.0"/>
<path d="M1341.0 634.0 L1218.2 757.0"/>
<path d="M1343.9 634.0 L1221.1 757.0"/>
<path d="M1346.9 634.0 L1224.1 757.0"/>
<path d="M1349.8 634.0 L1227.0 757.0"/>
<path d="M1391.3 634.0 L1268.5 757.0"/>
<path d="M1394.2 634.0 L1271.4 757.0"/>
<path d="M1397.2 634.0 L1274.4 757.0"/>
<path d="M1400.1 634.0 L1277.3 757.0"/>
<path d="M1441.6 634.0 L1318.8 757.0"/>
<path d="M1444.5 634.0 L1321.7 757.0"/>
<path d="M1447.5 634.0 L1324.7 757.0"/>
<path d="M1450.4 634.0 L1327.6 757.0"/>
</g>
<g fill="none" stroke="#000" stroke-width="2">
<path d="M1152.7 726.2 H1353.9"/>
<path d="M1122.0 757.0 H1323.2"/>
<path d="M1244.8 634.0 L1214.1 664.8"/>
<path d="M1295.1 634.0 L1264.4 664.8"/>
<path d="M1345.4 634.0 L1314.7 664.8"/>
<path d="M1395.7 634.0 L1365.0 664.8"/>
<path d="M1446.0 634.0 L1415.3 664.8"/>
<path d="M1152.7 726.2 L1122.0 757.0"/>
<path d="M1203.0 726.2 L1172.3 757.0"/>
<path d="M1253.3 726.2 L1222.6 757.0"/>
<path d="M1303.6 726.2 L1272.9 757.0"/>
<path d="M1353.9 726.2 L1323.2 757.0"/>
</g>
<g fill="none" stroke="#000" stroke-width="1.6">
<path d="M1207.5 664.8 L1146.1 726.2"/>
<path d="M1211.5 664.8 L1150.1 726.2"/>
<path d="M1215.5 664.8 L1154.1 726.2"/>
<path d="M1257.8 664.8 L1196.4 726.2"/>
<path d="M1261.8 664.8 L1200.4 726.2"/>
<path d="M1265.8 664.8 L1204.4 726.2"/>
<path d="M1308.1 664.8 L1246.7 726.2"/>
<path d="M1312.1 664.8 L1250.7 726.2"/>
<path d="M1316.1 664.8 L1254.7 726.2"/>
<path d="M1358.4 664.8 L1297.0 726.2"/>
<path d="M1362.4 664.8 L1301.0 726.2"/>
<path d="M1366.4 664.8 L1305.0 726.2"/>
<path d="M1408.7 664.8 L1347.3 726.2"/>
<path d="M1412.7 664.8 L1351.3 726.2"/>
<path d="M1416.7 664.8 L1355.3 726.2"/>
</g>
<path d="M1241.3 627.4 L1257.7 627.4 L1248.3 640.6 L1231.9 640.6 Z" fill="#DA0000"/>
<path d="M1291.6 627.4 L1308.0 627.4 L1298.6 640.6 L1282.2 640.6 Z" fill="#DA0000"/>
<path d="M1341.9 627.4 L1358.3 627.4 L1348.9 640.6 L1332.5 640.6 Z" fill="#DA0000"/>
<path d="M1392.2 627.4 L1408.6 627.4 L1399.2 640.6 L1382.8 640.6 Z" fill="#DA0000"/>
<path d="M1442.5 627.4 L1458.9 627.4 L1449.5 640.6 L1433.1 640.6 Z" fill="#DA0000"/>
<path d="M1210.6 658.1 L1227.0 658.1 L1217.6 671.4 L1201.2 671.4 Z" fill="#DA0000"/>
<path d="M1260.9 658.1 L1277.3 658.1 L1267.9 671.4 L1251.5 671.4 Z" fill="#DA0000"/>
<path d="M1311.2 658.1 L1327.6 658.1 L1318.2 671.4 L1301.8 671.4 Z" fill="#DA0000"/>
<path d="M1361.5 658.1 L1377.9 658.1 L1368.5 671.4 L1352.1 671.4 Z" fill="#DA0000"/>
<path d="M1411.8 658.1 L1428.2 658.1 L1418.8 671.4 L1402.4 671.4 Z" fill="#DA0000"/>
<path d="M1179.9 688.9 L1196.3 688.9 L1186.9 702.1 L1170.5 702.1 Z" fill="#DA0000"/>
<path d="M1230.2 688.9 L1246.6 688.9 L1237.2 702.1 L1220.8 702.1 Z" fill="#DA0000"/>
<path d="M1280.5 688.9 L1296.9 688.9 L1287.5 702.1 L1271.1 702.1 Z" fill="#DA0000"/>
<path d="M1330.8 688.9 L1347.2 688.9 L1337.8 702.1 L1321.4 702.1 Z" fill="#DA0000"/>
<path d="M1381.1 688.9 L1397.5 688.9 L1388.1 702.1 L1371.7 702.1 Z" fill="#DA0000"/>
<path d="M1149.2 719.6 L1165.6 719.6 L1156.2 732.9 L1139.8 732.9 Z" fill="#DA0000"/>
<path d="M1199.5 719.6 L1215.9 719.6 L1206.5 732.9 L1190.1 732.9 Z" fill="#DA0000"/>
<path d="M1249.8 719.6 L1266.2 719.6 L1256.8 732.9 L1240.4 732.9 Z" fill="#DA0000"/>
<path d="M1300.1 719.6 L1316.5 719.6 L1307.1 732.9 L1290.7 732.9 Z" fill="#DA0000"/>
<path d="M1350.4 719.6 L1366.8 719.6 L1357.4 732.9 L1341.0 732.9 Z" fill="#DA0000"/>
<path d="M1118.5 750.4 L1134.9 750.4 L1125.5 763.6 L1109.1 763.6 Z" fill="#DA0000"/>
<path d="M1168.8 750.4 L1185.2 750.4 L1175.8 763.6 L1159.4 763.6 Z" fill="#DA0000"/>
<path d="M1219.1 750.4 L1235.5 750.4 L1226.1 763.6 L1209.7 763.6 Z" fill="#DA0000"/>
<path d="M1269.4 750.4 L1285.8 750.4 L1276.4 763.6 L1260.0 763.6 Z" fill="#DA0000"/>
<path d="M1319.7 750.4 L1336.1 750.4 L1326.7 763.6 L1310.3 763.6 Z" fill="#DA0000"/>
<path d="M1204.5 667.8 L1151.1 721.2" fill="none" stroke="#000" stroke-width="1.6" opacity="0.5"/>
<path d="M1208.5 667.8 L1155.1 721.2" fill="none" stroke="#000" stroke-width="1.6" opacity="0.5"/>
<path d="M1212.5 667.8 L1159.1 721.2" fill="none" stroke="#000" stroke-width="1.6" opacity="0.5"/>
<path d="M1254.8 667.8 L1201.4 721.2" fill="none" stroke="#000" stroke-width="1.6" opacity="0.5"/>
<path d="M1258.8 667.8 L1205.4 721.2" fill="none" stroke="#000" stroke-width="1.6" opacity="0.5"/>
<path d="M1262.8 667.8 L1209.4 721.2" fill="none" stroke="#000" stroke-width="1.6" opacity="0.5"/>
<path d="M1305.1 667.8 L1251.7 721.2" fill="none" stroke="#000" stroke-width="1.6" opacity="0.5"/>
<path d="M1309.1 667.8 L1255.7 721.2" fill="none" stroke="#000" stroke-width="1.6" opacity="0.5"/>
<path d="M1313.1 667.8 L1259.7 721.2" fill="none" stroke="#000" stroke-width="1.6" opacity="0.5"/>
<path d="M1355.4 667.8 L1302.0 721.2" fill="none" stroke="#000" stroke-width="1.6" opacity="0.5"/>
<path d="M1359.4 667.8 L1306.0 721.2" fill="none" stroke="#000" stroke-width="1.6" opacity="0.5"/>
<path d="M1363.4 667.8 L1310.0 721.2" fill="none" stroke="#000" stroke-width="1.6" opacity="0.5"/>
<path d="M1405.7 667.8 L1352.3 721.2" fill="none" stroke="#000" stroke-width="1.6" opacity="0.5"/>
<path d="M1409.7 667.8 L1356.3 721.2" fill="none" stroke="#000" stroke-width="1.6" opacity="0.5"/>
<path d="M1413.7 667.8 L1360.3 721.2" fill="none" stroke="#000" stroke-width="1.6" opacity="0.5"/>
<path d="M1160.7 726.2 H1345.9" fill="none" stroke="#000" stroke-width="2" opacity="1"/>
<text x="1108.2" y="801.5" font-size="21.5" font-weight="normal" text-anchor="start" fill="#000" textLength="180" lengthAdjust="spacingAndGlyphs" stroke="#000" stroke-width="0.45" stroke-linejoin="round">Active Interposer</text>
</g>
<g transform="translate(-89 358)">
<path d="M1073.6 776 L1231.5 620 H1494.8 V652.6 L1337.6 809.6 H1073.6 Z" fill="#4C5462" opacity="0.85" filter="url(#blur2)"/>
<path d="M1337 774 L1494.3 617.5 V650 L1337 807 Z" fill="url(#gside)"/>
<path d="M1231 617.5 H1494.3 L1337 774.5 H1073 Z" fill="#CEDFF2"/>
<rect x="1073" y="774" width="264" height="33" fill="#C7DAEF"/>
<path d="M1073 774.6 H1337" stroke="#DCE8F6" stroke-width="1.4" fill="none"/>
<g fill="none" stroke="#A0AEC2" stroke-width="1.25">
<path d="M1244.8 630.9 H1446.0" stroke="#AEBBCD" stroke-width="1"/>
<path d="M1244.8 633.0 H1446.0" stroke="#AEBBCD" stroke-width="1"/>
<path d="M1244.8 635.1 H1446.0" stroke="#AEBBCD" stroke-width="1"/>
<path d="M1244.8 637.2 H1446.0" stroke="#AEBBCD" stroke-width="1"/>
<path d="M1214.1 661.6 H1415.3" stroke="#AEBBCD" stroke-width="1"/>
<path d="M1214.1 663.8 H1415.3" stroke="#AEBBCD" stroke-width="1"/>
<path d="M1214.1 665.9 H1415.3" stroke="#AEBBCD" stroke-width="1"/>
<path d="M1214.1 668.0 H1415.3" stroke="#AEBBCD" stroke-width="1"/>
<path d="M1183.4 692.4 H1384.6" stroke="#AEBBCD" stroke-width="1"/>
<path d="M1183.4 694.5 H1384.6" stroke="#AEBBCD" stroke-width="1"/>
<path d="M1183.4 696.6 H1384.6" stroke="#AEBBCD" stroke-width="1"/>
<path d="M1183.4 698.7 H1384.6" stroke="#AEBBCD" stroke-width="1"/>
<path d="M1152.7 723.1 H1353.9" stroke="#AEBBCD" stroke-width="1"/>
<path d="M1152.7 725.2 H1353.9" stroke="#AEBBCD" stroke-width="1"/>
<path d="M1152.7 727.4 H1353.9" stroke="#AEBBCD" stroke-width="1"/>
<path d="M1152.7 729.5 H1353.9" stroke="#AEBBCD" stroke-width="1"/>
<path d="M1122.0 753.9 H1323.2" stroke="#AEBBCD" stroke-width="1"/>
<path d="M1122.0 756.0 H1323.2" stroke="#AEBBCD" stroke-width="1"/>
<path d="M1122.0 758.1 H1323.2" stroke="#AEBBCD" stroke-width="1"/>
<path d="M1122.0 760.2 H1323.2" stroke="#AEBBCD" stroke-width="1"/>
<path d="M1240.4 634.0 L1117.6 757.0"/>
<path d="M1243.3 634.0 L1120.5 757.0"/>
<path d="M1246.3 634.0 L1123.5 757.0"/>
<path d="M1249.2 634.0 L1126.4 757.0"/>
<path d="M1290.7 634.0 L1167.9 757.0"/>
<path d="M1293.6 634.0 L1170.8 757.0"/>
<path d="M1296.6 634.0 L1173.8 757.0"/>
<path d="M1299.5 634.0 L1176.7 757.0"/>
<path d="M1341.0 634.0 L1218.2 757.0"/>
<path d="M1343.9 634.0 L1221.1 757.0"/>
<path d="M1346.9 634.0 L1224.1 757.0"/>
<path d="M1349.8 634.0 L1227.0 757.0"/>
<path d="M1391.3 634.0 L1268.5 757.0"/>
<path d="M1394.2 634.0 L1271.4 757.0"/>
<path d="M1397.2 634.0 L1274.4 757.0"/>
<path d="M1400.1 634.0 L1277.3 757.0"/>
<path d="M1441.6 634.0 L1318.8 757.0"/>
<path d="M1444.5 634.0 L1321.7 757.0"/>
<path d="M1447.5 634.0 L1324.7 757.0"/>
<path d="M1450.4 634.0 L1327.6 757.0"/>
</g>
<g fill="none" stroke="#000" stroke-width="2">
<path d="M1244.8 634.0 H1446.0"/>
<path d="M1214.1 664.8 H1415.3"/>
<path d="M1183.4 695.5 H1334.3"/>
<path d="M1152.7 726.2 H1303.6"/>
<path d="M1122.0 757.0 H1323.2"/>
<path d="M1244.8 634.0 L1214.1 664.8"/>
<path d="M1152.7 726.2 L1122.0 757.0"/>
<path d="M1415.3 664.8 L1323.2 757.0"/>
<path d="M1334.3 695.5 L1303.6 726.2"/>
</g>
<path d="M1241.3 627.4 L1257.7 627.4 L1248.3 640.6 L1231.9 640.6 Z" fill="#FBB034"/>
<path d="M1291.6 627.4 L1308.0 627.4 L1298.6 640.6 L1282.2 640.6 Z" fill="#FBB034"/>
<path d="M1341.9 627.4 L1358.3 627.4 L1348.9 640.6 L1332.5 640.6 Z" fill="#FBB034"/>
<path d="M1392.2 627.4 L1408.6 627.4 L1399.2 640.6 L1382.8 640.6 Z" fill="#FBB034"/>
<path d="M1442.5 627.4 L1458.9 627.4 L1449.5 640.6 L1433.1 640.6 Z" fill="#FBB034"/>
<path d="M1210.6 658.1 L1227.0 658.1 L1217.6 671.4 L1201.2 671.4 Z" fill="#FBB034"/>
<path d="M1260.9 658.1 L1277.3 658.1 L1267.9 671.4 L1251.5 671.4 Z" fill="#FBB034"/>
<path d="M1311.2 658.1 L1327.6 658.1 L1318.2 671.4 L1301.8 671.4 Z" fill="#FBB034"/>
<path d="M1361.5 658.1 L1377.9 658.1 L1368.5 671.4 L1352.1 671.4 Z" fill="#FBB034"/>
<path d="M1411.8 658.1 L1428.2 658.1 L1418.8 671.4 L1402.4 671.4 Z" fill="#FBB034"/>
<path d="M1179.9 688.9 L1196.3 688.9 L1186.9 702.1 L1170.5 702.1 Z" fill="#FBB034"/>
<path d="M1230.2 688.9 L1246.6 688.9 L1237.2 702.1 L1220.8 702.1 Z" fill="#FBB034"/>
<path d="M1280.5 688.9 L1296.9 688.9 L1287.5 702.1 L1271.1 702.1 Z" fill="#FBB034"/>
<path d="M1330.8 688.9 L1347.2 688.9 L1337.8 702.1 L1321.4 702.1 Z" fill="#FBB034"/>
<path d="M1381.1 688.9 L1397.5 688.9 L1388.1 702.1 L1371.7 702.1 Z" fill="#FBB034"/>
<path d="M1149.2 719.6 L1165.6 719.6 L1156.2 732.9 L1139.8 732.9 Z" fill="#FBB034"/>
<path d="M1199.5 719.6 L1215.9 719.6 L1206.5 732.9 L1190.1 732.9 Z" fill="#FBB034"/>
<path d="M1249.8 719.6 L1266.2 719.6 L1256.8 732.9 L1240.4 732.9 Z" fill="#FBB034"/>
<path d="M1300.1 719.6 L1316.5 719.6 L1307.1 732.9 L1290.7 732.9 Z" fill="#FBB034"/>
<path d="M1350.4 719.6 L1366.8 719.6 L1357.4 732.9 L1341.0 732.9 Z" fill="#FBB034"/>
<path d="M1118.5 750.4 L1134.9 750.4 L1125.5 763.6 L1109.1 763.6 Z" fill="#FBB034"/>
<path d="M1168.8 750.4 L1185.2 750.4 L1175.8 763.6 L1159.4 763.6 Z" fill="#FBB034"/>
<path d="M1219.1 750.4 L1235.5 750.4 L1226.1 763.6 L1209.7 763.6 Z" fill="#FBB034"/>
<path d="M1269.4 750.4 L1285.8 750.4 L1276.4 763.6 L1260.0 763.6 Z" fill="#FBB034"/>
<path d="M1319.7 750.4 L1336.1 750.4 L1326.7 763.6 L1310.3 763.6 Z" fill="#FBB034"/>
<text x="1124.2" y="801.5" font-size="21.5" font-weight="normal" text-anchor="start" fill="#000" textLength="180" lengthAdjust="spacingAndGlyphs" stroke="#000" stroke-width="0.45" stroke-linejoin="round">Active Interposer</text>
</g>
<g transform="translate(316 358)">
<path d="M1073.6 776 L1231.5 620 H1494.8 V652.6 L1337.6 809.6 H1073.6 Z" fill="#4C5462" opacity="0.85" filter="url(#blur2)"/>
<path d="M1337 774 L1494.3 617.5 V650 L1337 807 Z" fill="url(#gside)"/>
<path d="M1231 617.5 H1494.3 L1337 774.5 H1073 Z" fill="#CEDFF2"/>
<rect x="1073" y="774" width="264" height="33" fill="#C7DAEF"/>
<path d="M1073 774.6 H1337" stroke="#DCE8F6" stroke-width="1.4" fill="none"/>
<g fill="none" stroke="#A0AEC2" stroke-width="1.25">
<path d="M1244.8 630.9 H1446.0" stroke="#AEBBCD" stroke-width="1"/>
<path d="M1244.8 633.0 H1446.0" stroke="#AEBBCD" stroke-width="1"/>
<path d="M1244.8 635.1 H1446.0" stroke="#AEBBCD" stroke-width="1"/>
<path d="M1244.8 637.2 H1446.0" stroke="#AEBBCD" stroke-width="1"/>
<path d="M1214.1 661.6 H1415.3" stroke="#AEBBCD" stroke-width="1"/>
<path d="M1214.1 663.8 H1415.3" stroke="#AEBBCD" stroke-width="1"/>
<path d="M1214.1 665.9 H1415.3" stroke="#AEBBCD" stroke-width="1"/>
<path d="M1214.1 668.0 H1415.3" stroke="#AEBBCD" stroke-width="1"/>
<path d="M1183.4 692.4 H1384.6" stroke="#AEBBCD" stroke-width="1"/>
<path d="M1183.4 694.5 H1384.6" stroke="#AEBBCD" stroke-width="1"/>
<path d="M1183.4 696.6 H1384.6" stroke="#AEBBCD" stroke-width="1"/>
<path d="M1183.4 698.7 H1384.6" stroke="#AEBBCD" stroke-width="1"/>
<path d="M1152.7 723.1 H1353.9" stroke="#AEBBCD" stroke-width="1"/>
<path d="M1152.7 725.2 H1353.9" stroke="#AEBBCD" stroke-width="1"/>
<path d="M1152.7 727.4 H1353.9" stroke="#AEBBCD" stroke-width="1"/>
<path d="M1152.7 729.5 H1353.9" stroke="#AEBBCD" stroke-width="1"/>
<path d="M1122.0 753.9 H1323.2" stroke="#AEBBCD" stroke-width="1"/>
<path d="M1122.0 756.0 H1323.2" stroke="#AEBBCD" stroke-width="1"/>
<path d="M1122.0 758.1 H1323.2" stroke="#AEBBCD" stroke-width="1"/>
<path d="M1122.0 760.2 H1323.2" stroke="#AEBBCD" stroke-width="1"/>
<path d="M1240.4 634.0 L1117.6 757.0"/>
<path d="M1243.3 634.0 L1120.5 757.0"/>
<path d="M1246.3 634.0 L1123.5 757.0"/>
<path d="M1249.2 634.0 L1126.4 757.0"/>
<path d="M1290.7 634.0 L1167.9 757.0"/>
<path d="M1293.6 634.0 L1170.8 757.0"/>
<path d="M1296.6 634.0 L1173.8 757.0"/>
<path d="M1299.5 634.0 L1176.7 757.0"/>
<path d="M1341.0 634.0 L1218.2 757.0"/>
<path d="M1343.9 634.0 L1221.1 757.0"/>
<path d="M1346.9 634.0 L1224.1 757.0"/>
<path d="M1349.8 634.0 L1227.0 757.0"/>
<path d="M1391.3 634.0 L1268.5 757.0"/>
<path d="M1394.2 634.0 L1271.4 757.0"/>
<path d="M1397.2 634.0 L1274.4 757.0"/>
<path d="M1400.1 634.0 L1277.3 757.0"/>
<path d="M1441.6 634.0 L1318.8 757.0"/>
<path d="M1444.5 634.0 L1321.7 757.0"/>
<path d="M1447.5 634.0 L1324.7 757.0"/>
<path d="M1450.4 634.0 L1327.6 757.0"/>
</g>
<g fill="none" stroke="#000" stroke-width="2">
<path d="M1214.1 664.8 H1415.3"/>
<path d="M1183.4 695.5 H1384.6"/>
<path d="M1152.7 726.2 H1353.9"/>
</g>
<path d="M1241.3 627.4 L1257.7 627.4 L1248.3 640.6 L1231.9 640.6 Z" fill="#0A6FC2"/>
<path d="M1291.6 627.4 L1308.0 627.4 L1298.6 640.6 L1282.2 640.6 Z" fill="#FBB034"/>
<path d="M1341.9 627.4 L1358.3 627.4 L1348.9 640.6 L1332.5 640.6 Z" fill="#FBB034"/>
<path d="M1392.2 627.4 L1408.6 627.4 L1399.2 640.6 L1382.8 640.6 Z" fill="#FBB034"/>
<path d="M1442.5 627.4 L1458.9 627.4 L1449.5 640.6 L1433.1 640.6 Z" fill="#0A6FC2"/>
<path d="M1210.6 658.1 L1227.0 658.1 L1217.6 671.4 L1201.2 671.4 Z" fill="#FBB034"/>
<path d="M1260.9 658.1 L1277.3 658.1 L1267.9 671.4 L1251.5 671.4 Z" fill="#DA0000"/>
<path d="M1311.2 658.1 L1327.6 658.1 L1318.2 671.4 L1301.8 671.4 Z" fill="#FBB034"/>
<path d="M1361.5 658.1 L1377.9 658.1 L1368.5 671.4 L1352.1 671.4 Z" fill="#DA0000"/>
<path d="M1411.8 658.1 L1428.2 658.1 L1418.8 671.4 L1402.4 671.4 Z" fill="#FBB034"/>
<path d="M1179.9 688.9 L1196.3 688.9 L1186.9 702.1 L1170.5 702.1 Z" fill="#FBB034"/>
<path d="M1230.2 688.9 L1246.6 688.9 L1237.2 702.1 L1220.8 702.1 Z" fill="#FBB034"/>
<path d="M1280.5 688.9 L1296.9 688.9 L1287.5 702.1 L1271.1 702.1 Z" fill="#FBB034"/>
<path d="M1330.8 688.9 L1347.2 688.9 L1337.8 702.1 L1321.4 702.1 Z" fill="#FBB034"/>
<path d="M1381.1 688.9 L1397.5 688.9 L1388.1 702.1 L1371.7 702.1 Z" fill="#FBB034"/>
<path d="M1149.2 719.6 L1165.6 719.6 L1156.2 732.9 L1139.8 732.9 Z" fill="#FBB034"/>
<path d="M1199.5 719.6 L1215.9 719.6 L1206.5 732.9 L1190.1 732.9 Z" fill="#DA0000"/>
<path d="M1249.8 719.6 L1266.2 719.6 L1256.8 732.9 L1240.4 732.9 Z" fill="#FBB034"/>
<path d="M1300.1 719.6 L1316.5 719.6 L1307.1 732.9 L1290.7 732.9 Z" fill="#DA0000"/>
<path d="M1350.4 719.6 L1366.8 719.6 L1357.4 732.9 L1341.0 732.9 Z" fill="#FBB034"/>
<path d="M1118.5 750.4 L1134.9 750.4 L1125.5 763.6 L1109.1 763.6 Z" fill="#0A6FC2"/>
<path d="M1168.8 750.4 L1185.2 750.4 L1175.8 763.6 L1159.4 763.6 Z" fill="#FBB034"/>
<path d="M1219.1 750.4 L1235.5 750.4 L1226.1 763.6 L1209.7 763.6 Z" fill="#FBB034"/>
<path d="M1269.4 750.4 L1285.8 750.4 L1276.4 763.6 L1260.0 763.6 Z" fill="#FBB034"/>
<path d="M1319.7 750.4 L1336.1 750.4 L1326.7 763.6 L1310.3 763.6 Z" fill="#0A6FC2"/>
<path d="M1253.0 633.4 H1338.4 L1219.0 752.8 H1130.0" fill="none" stroke="#000" stroke-width="2.5" opacity="1"/>
<path d="M1343.4 634.4 L1221.6 756.2 H1130.0" fill="none" stroke="#000" stroke-width="2.2" opacity="1"/>
<path d="M1443.0 630.3 H1352.4 L1226.0 756.9 H1316.0" fill="none" stroke="#000" stroke-width="2.0" opacity="1"/>
<path d="M1227.5 760.0 H1316.0" fill="none" stroke="#000" stroke-width="1.9" opacity="1"/>
<path d="M1280.5 688.9 L1296.9 688.9 L1287.5 702.1 L1271.1 702.1 Z" fill="#90CC6C"/>
<path d="M1241.3 627.4 L1257.7 627.4 L1248.3 640.6 L1231.9 640.6 Z" fill="#0A6FC2"/>
<path d="M1442.5 627.4 L1458.9 627.4 L1449.5 640.6 L1433.1 640.6 Z" fill="#0A6FC2"/>
<path d="M1118.5 750.4 L1134.9 750.4 L1125.5 763.6 L1109.1 763.6 Z" fill="#0A6FC2"/>
<path d="M1319.7 750.4 L1336.1 750.4 L1326.7 763.6 L1310.3 763.6 Z" fill="#0A6FC2"/>
<text x="1125.2" y="801.5" font-size="21.5" font-weight="normal" text-anchor="start" fill="#000" textLength="180" lengthAdjust="spacingAndGlyphs" stroke="#000" stroke-width="0.45" stroke-linejoin="round">Active Interposer</text>
</g>
<text x="1308.6" y="607.3" font-size="33" font-weight="normal" text-anchor="start" fill="#000" textLength="88.5" lengthAdjust="spacingAndGlyphs" stroke="#000" stroke-width="1.1" stroke-linejoin="round">Mesh</text>
<text x="1702.2" y="602.6" font-size="33" font-weight="normal" text-anchor="start" fill="#000" textLength="72.2" lengthAdjust="spacingAndGlyphs" stroke="#000" stroke-width="1.1" stroke-linejoin="round">Tree</text>
<text x="1201.2" y="965" font-size="33" font-weight="normal" text-anchor="start" fill="#000" textLength="127.3" lengthAdjust="spacingAndGlyphs" stroke="#000" stroke-width="1.1" stroke-linejoin="round">Custom</text>
<text x="1628.8" y="914.5" font-size="33" font-weight="normal" text-anchor="start" fill="#000" textLength="127.8" lengthAdjust="spacingAndGlyphs" stroke="#000" stroke-width="1.1" stroke-linejoin="round">Custom</text>
<text x="1563.6" y="959" font-size="33" font-weight="normal" text-anchor="start" fill="#000" textLength="259" lengthAdjust="spacingAndGlyphs" stroke="#000" stroke-width="1.1" stroke-linejoin="round">Heterogeneous</text>
<text x="1386.3" y="890.6" font-size="32" font-weight="bold" fill="#000" letter-spacing="7.1">...</text>
</g>
</svg>
</body>
</html>
